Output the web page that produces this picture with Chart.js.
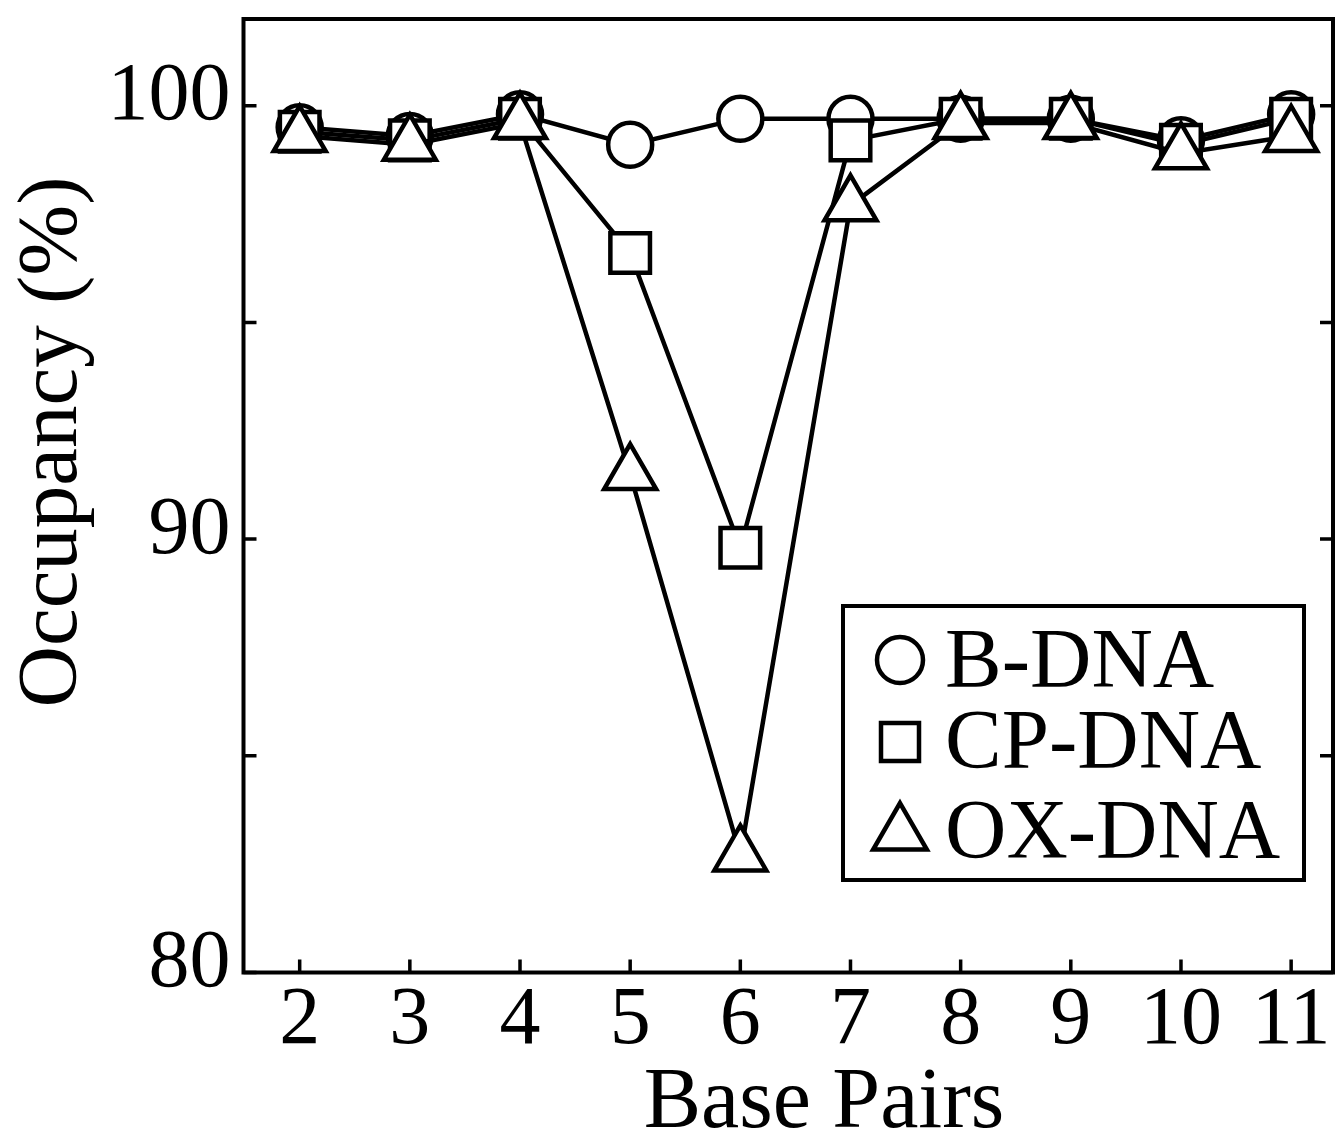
<!DOCTYPE html>
<html lang="en">
<head>
<meta charset="UTF-8">
<title>Occupancy vs Base Pairs</title>
<script src="https://cdn.jsdelivr.net/npm/chart.js"></script>
<style>
  html, body { margin: 0; padding: 0; background: #fff; }
  #wrap { width: 1339px; height: 1133px; position: relative; }
</style>
</head>
<body>
<div id="wrap"><canvas id="myChart"></canvas></div>
<script>
// data
const basePairs = [2, 3, 4, 5, 6, 7, 8, 9, 10, 11];
const bDNA  = [99.5, 99.3, 99.8, 99.1, 99.7, 99.7, 99.7, 99.7, 99.2, 99.8];
const cpDNA = [99.4, 99.2, 99.7, 96.6, 89.8, 99.2, 99.7, 99.7, 99.1, 99.7];
const oxDNA = [99.3, 99.1, 99.6, 91.5, 82.7, 97.7, 99.6, 99.6, 98.9, 99.3];
const seriesNames = ['B-DNA', 'CP-DNA', 'OX-DNA'];
const xTitle = 'Base Pairs';
const yTitle = 'Occupancy (%)';
const xTicks = [2, 3, 4, 5, 6, 7, 8, 9, 10, 11];
const yTicks = [80, 85, 90, 95, 100];
const yLabels = [80, 90, 100];

const FONT = "'Liberation Serif', 'Times New Roman', serif";

function toPoints(vals) {
    return basePairs.map((b, i) => ({ x: b, y: vals[i] }));
}

function styled(label, vals, style, radius, order) {
    return {
        label: label,
        data: toPoints(vals),
        borderColor: '#000',
        borderWidth: 4.5,
        pointStyle: style,
        pointRadius: radius,
        pointBackgroundColor: '#fff',
        pointBorderColor: '#000',
        pointBorderWidth: 4.5,
        tension: 0,
        order: order
    };
}

function noPad(s) {
    s.paddingTop = 0; s.paddingBottom = 0;
    s.paddingLeft = 0; s.paddingRight = 0;
}

// frame with inward ticks, plus axis titles
const framePlugin = {
    id: 'frame',
    afterDraw(chart) {
        const { ctx, chartArea: a, scales: { x, y } } = chart;
        ctx.save();
        ctx.strokeStyle = '#000';
        ctx.lineWidth = 4;
        ctx.strokeRect(a.left, a.top, a.right - a.left, a.bottom - a.top);
        ctx.lineWidth = 3.5;
        ctx.beginPath();
        xTicks.forEach(v => {
            const px = x.getPixelForValue(v);
            ctx.moveTo(px, a.bottom);
            ctx.lineTo(px, a.bottom - 13);
        });
        yTicks.forEach(v => {
            const py = y.getPixelForValue(v);
            ctx.moveTo(a.left, py);
            ctx.lineTo(a.left + 13, py);
            ctx.moveTo(a.right, py);
            ctx.lineTo(a.right - 13, py);
        });
        ctx.stroke();

        ctx.fillStyle = '#000';
        ctx.font = '86px ' + FONT;
        ctx.textAlign = 'center';
        ctx.textBaseline = 'alphabetic';
        ctx.fillText(xTitle, 824, 1127);
        ctx.translate(76, 442);
        ctx.rotate(-Math.PI / 2);
        ctx.font = '85px ' + FONT;
        ctx.fillText(yTitle, 0, 0);
        ctx.restore();
    }
};

// boxed legend inside the plot
const boxLegend = {
    id: 'boxLegend',
    afterDraw(chart) {
        const ctx = chart.ctx;
        const box = { x: 843, y: 606, w: 461, h: 274 };
        ctx.save();
        ctx.fillStyle = '#fff';
        ctx.fillRect(box.x, box.y, box.w, box.h);
        ctx.strokeStyle = '#000';
        ctx.lineWidth = 4;
        ctx.strokeRect(box.x, box.y, box.w, box.h);
        const mx = 900;
        const rows = [
            { my: 660, base: 687 },
            { my: 742, base: 768 },
            { my: 834, base: 858 }
        ];
        ctx.lineWidth = 4.5;
        rows.forEach((row, i) => {
            const ry = row.my;
            ctx.beginPath();
            if (i === 0) {
                ctx.arc(mx, ry, 23, 0, Math.PI * 2);
            } else if (i === 1) {
                ctx.rect(mx - 19, ry - 19, 38, 38);
            } else {
                const r = 31;
                ctx.moveTo(mx, ry - r);
                ctx.lineTo(mx + r * Math.sin(2 * Math.PI / 3), ry + r / 2);
                ctx.lineTo(mx - r * Math.sin(2 * Math.PI / 3), ry + r / 2);
                ctx.closePath();
            }
            ctx.fillStyle = '#fff';
            ctx.fill();
            ctx.stroke();
            ctx.fillStyle = '#000';
            ctx.font = '85px ' + FONT;
            ctx.textBaseline = 'alphabetic';
            ctx.textAlign = 'left';
            ctx.fillText(seriesNames[i], 945, row.base);
        });
        ctx.restore();
    }
};

const config = {
    type: 'line',
    data: {
        datasets: [
            styled(seriesNames[0], bDNA, 'circle', 22, 3),
            styled(seriesNames[1], cpDNA, 'rect', 28, 2),
            styled(seriesNames[2], oxDNA, 'triangle', 30, 1)
        ]
    },
    options: {
        responsive: true,
        maintainAspectRatio: false,
        animation: false,
        layout: { autoPadding: false, padding: { top: 19, right: 6, left: 0, bottom: 0 } },
        plugins: {
            legend: { display: false },
            tooltip: { enabled: false }
        },
        scales: {
            x: {
                type: 'linear',
                min: 1.49,
                max: 11.38,
                afterBuildTicks: s => { s.ticks = xTicks.map(v => ({ value: v })); },
                afterFit: s => { s.height = 160.5; noPad(s); },
                grid: { display: false, drawTicks: false },
                border: { display: false },
                ticks: {
                    color: '#000',
                    font: { family: FONT, size: 82 },
                    padding: 0,
                    maxRotation: 0,
                    autoSkip: false
                }
            },
            y: {
                min: 80,
                max: 102,
                afterBuildTicks: s => { s.ticks = yTicks.map(v => ({ value: v })); },
                afterFit: s => { s.width = 243.5; noPad(s); },
                grid: { display: false, drawTicks: false },
                border: { display: false },
                ticks: {
                    color: '#000',
                    font: { family: FONT, size: 82 },
                    padding: 13,
                    labelOffset: -8,
                    callback: v => yLabels.includes(v) ? String(v) : ''
                }
            }
        }
    },
    plugins: [framePlugin, boxLegend]
};

new Chart(document.getElementById('myChart'), config);
</script>
</body>
</html>
